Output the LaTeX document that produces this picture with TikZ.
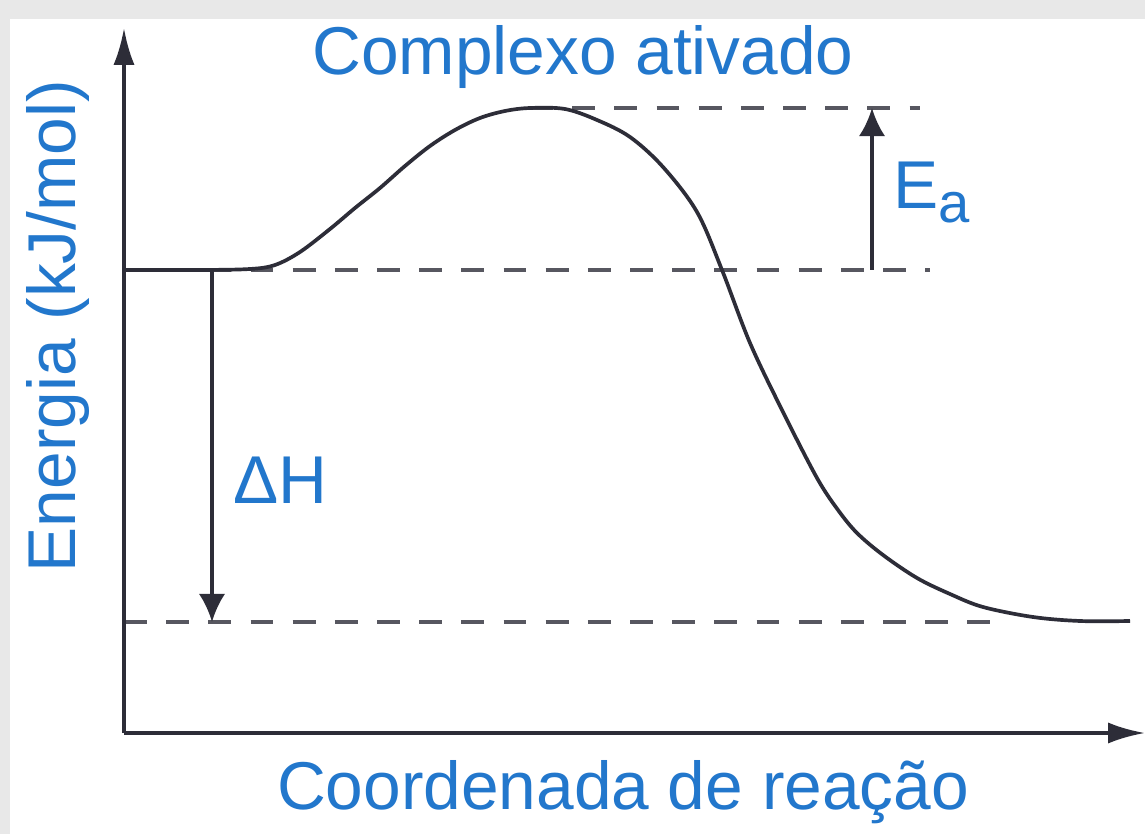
\documentclass[tikz,border=0pt]{standalone}
\usepackage{fontspec}
\setmainfont{Liberation Sans}
\usetikzlibrary{arrows.meta, positioning, calc}
\definecolor{labelblue}{RGB}{34,119,204}
\definecolor{inkgray}{RGB}{45,45,56}

\begin{document}
\begin{tikzpicture}[
  x=0.02cm, y=-0.02cm,
  axisline/.style={-{Latex[length=21pt,width=12pt]}, line width=2.1pt, draw=inkgray},
  dashline/.style={dash pattern=on 13pt off 11pt, line width=2pt, draw=inkgray!80},
  profile/.style={line width=2.1pt, draw=inkgray},
  gaparrow/.style={-{Latex[length=16pt,width=15pt]}, line width=2pt, draw=inkgray},
  txt/.style={text=labelblue, font=\fontsize{38.5}{46}\selectfont, inner sep=0pt}
]
% frame
\fill[gray!18] (0,0) rectangle (1145,834);
\fill[white] (10,19) rectangle (1145,834);
\useasboundingbox (0,0) rectangle (1145,834);

% levels
\coordinate (origin) at (124,733);
\coordinate (ytop) at (124,28);
\coordinate (xend) at (1145,733);
\coordinate (react) at (124,270);
\coordinate (reactend) at (930,270);
\coordinate (peak) at (530,108);
\coordinate (peakend) at (920,108);
\coordinate (prodstart) at (124,622);
\coordinate (prodend) at (990,622);

\draw[dashline] (react) -- (reactend);
\draw[dashline] (peak) -- (peakend);
\draw[dashline] (prodstart) -- (prodend);

% reaction profile
\draw[profile] plot[smooth, tension=0.55] coordinates {
  (124,270) (200,270) (250,269) (275,265) (300,252) (330,229) (355,208)
  (380,188) (405,166) (430,146) (455,130) (480,118) (505,111) (530,108)
  (565,109) (597,120) (630,137) (663,167) (697,212) (722,270) (750,343)
  (783,412) (817,478) (838,510) (857,533) (883,555) (917,578) (950,594)
  (983,607) (1033,617) (1080,621) (1130,621)};

% axes
\draw[axisline] (origin) -- (ytop);
\draw[axisline] (origin) -- (xend);

% Ea and Delta H
\coordinate (eabase) at (872,270);
\coordinate (eatop) at (872,108);
\coordinate (dhtop) at (212,270);
\coordinate (dhbottom) at (212,622);
\draw[gaparrow] (eabase) -- (eatop);
\draw[gaparrow] (dhtop) -- (dhbottom);

\node[txt, anchor=base] (title) at (583,75) {Complexo ativado};
\node[txt, anchor=base west] (ea) at (893,209) {E\raisebox{-0.28cm}{\fontsize{32}{38}\selectfont a}};
\node[txt, anchor=base west] (dh) at (233,503) {ΔH};
\node[txt, anchor=base, rotate=90] (ylabel) at (75,326) {Energia (kJ/mol)};
\node[txt, anchor=base] (xlabel) at (623,809) {Coordenada de reação};
\end{tikzpicture}
\end{document}
